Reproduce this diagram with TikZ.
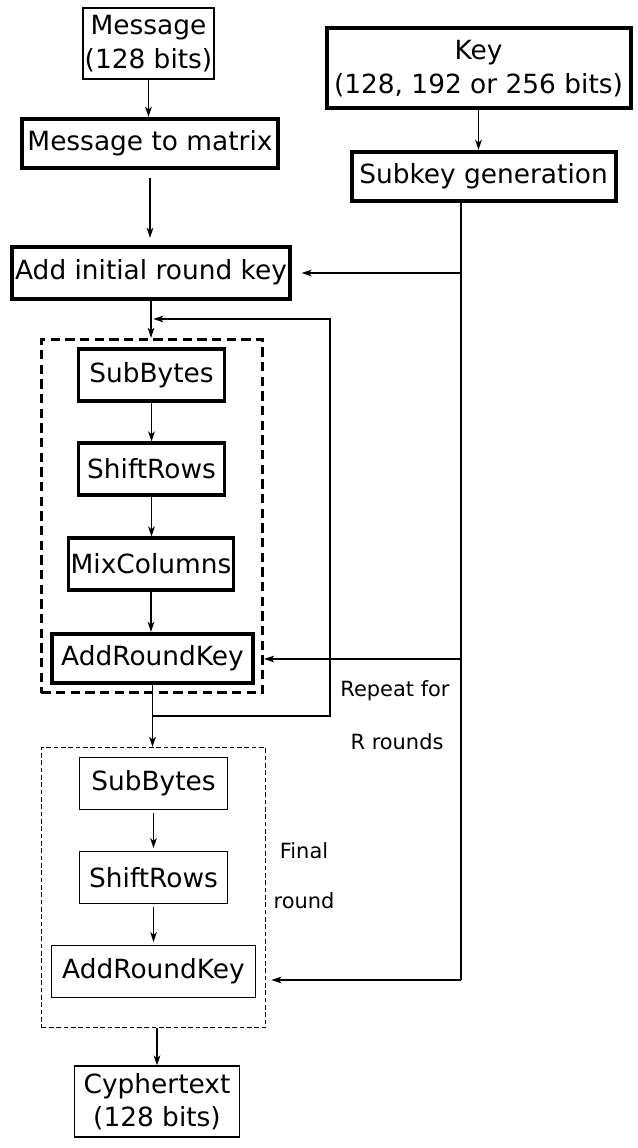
\documentclass[tikz,border=0pt]{standalone}
\usepackage{fontspec}
\setmainfont{DejaVu Sans}
\usetikzlibrary{arrows.meta,calc}
\begin{document}
\begin{tikzpicture}[x=0.75pt,y=-0.75pt,
  every node/.style={font=\fontsize{19.8}{25}\selectfont, inner sep=0pt, align=center},
  thinbox/.style={draw, line width=1.1pt},
  thickbox/.style={draw, line width=3pt},
  midbox/.style={draw, line width=2.3pt},
  lbl/.style={font=\fontsize{15.7}{19}\selectfont},
  arr/.style={-{Stealth[length=7.5pt,width=5pt,inset=2pt]}, line width=1.1pt},
  ln/.style={line width=1.1pt}
]
\useasboundingbox (0,0) rectangle (637,1148);
% top
\node[thinbox, minimum width=98pt, minimum height=53pt] (msg) at (148.5,43.5) {Message\\(128 bits)};
\node[thickbox, minimum width=192pt, minimum height=37pt] (m2m) at (150,143.5) {Message to matrix};
\node[thickbox, minimum width=209pt, minimum height=39pt] (addinit) at (151,272.5) {Add initial round key};
\node[thickbox, minimum width=228pt, minimum height=60pt, font=\fontsize{19.8}{26}\selectfont] (key) at (478.5,68.5) {Key\\(128, 192 or 256 bits)};
\node[thickbox, minimum width=198pt, minimum height=37pt] (subgen) at (483.5,176.5) {Subkey generation};
% round box
\node[draw, dashed, line width=2.3pt, dash pattern=on 7pt off 4pt, minimum width=166pt, minimum height=265pt] (rbox) at (152,516) {};
\node[midbox, minimum width=110pt, minimum height=39pt] (sb1) at (151.5,375) {SubBytes};
\node[midbox, minimum width=110pt, minimum height=39pt] (sr1) at (151.5,469) {ShiftRows};
\node[midbox, minimum width=124pt, minimum height=39pt] (mc1) at (151,564) {MixColumns};
\node[thickbox, minimum width=151pt, minimum height=37pt] (ark1) at (152.5,658.5) {AddRoundKey};
% final box
\node[draw, line width=0.9pt, dash pattern=on 3.5pt off 2pt, minimum width=168pt, minimum height=210pt] (fbox) at (153.5,887.5) {};
\node[thinbox, minimum width=111pt, minimum height=39pt] (sb2) at (153.5,783.5) {SubBytes};
\node[thinbox, minimum width=111pt, minimum height=39pt] (sr2) at (153.5,877.5) {ShiftRows};
\node[thinbox, minimum width=153pt, minimum height=39pt] (ark2) at (153.5,971.5) {AddRoundKey};
\node[thinbox, minimum width=124pt, minimum height=53pt] (ct) at (157,1101.5) {Cyphertext\\(128 bits)};
% labels
\node[lbl] (rep1) at (395,691) {Repeat for};
\node[lbl] (rep2) at (397,742) {R rounds};
\node[lbl] (fin1) at (304,851) {Final};
\node[lbl] (fin2) at (304,901) {round};
% coordinates
\coordinate (k0) at (461,203);
\coordinate (k1) at (461,273);
\coordinate (k2) at (461,659);
\coordinate (k3) at (461,980);
\coordinate (lpa) at (153,716);
\coordinate (lpb) at (330,716);
\coordinate (lpc) at (330,319);
\coordinate (lpd) at (152,319);
% connectors
\draw[arr] (msg.south) -- (msg.south |- m2m.north);
\draw[arr, shorten <=6pt, shorten >=5pt] (m2m.south) -- (m2m.south |- addinit.north);
\draw[arr] (key.south) -- (key.south |- subgen.north);
\draw[ln] (subgen.south -| k0) -- (k3);
\draw[arr, shorten >=7pt] (k1) -- (addinit.east |- k1);
\draw[arr] (k2) -- (rbox.east |- k2);
\draw[arr, shorten >=4pt] (k3) -- (fbox.east |- k3);
\draw[arr] (addinit.south) -- (addinit.south |- rbox.north);
\draw[arr] (sb1.south) -- (sb1.south |- sr1.north);
\draw[arr] (sr1.south) -- (sr1.south |- mc1.north);
\draw[arr] (mc1.south) -- (mc1.south |- ark1.north);
\draw[arr] (ark1.south) -- (ark1.south |- fbox.north);
\draw[arr, shorten >=1pt] (lpa) -- (lpb) -- (lpc) -- (lpd);
\draw[arr, shorten <=2pt, shorten >=2pt] (sb2.south) -- (sb2.south |- sr2.north);
\draw[arr, shorten <=2pt, shorten >=2pt] (sr2.south) -- (sr2.south |- ark2.north);
\draw[arr] (fbox.south -| ct.north) -- (ct.north);
\end{tikzpicture}
\end{document}
